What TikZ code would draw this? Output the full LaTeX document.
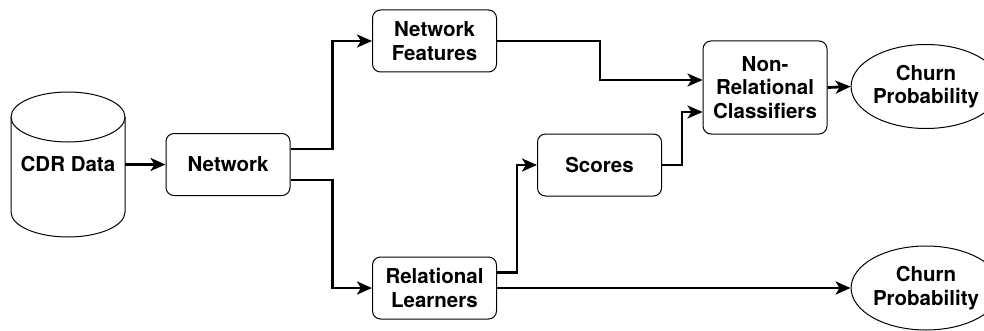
\documentclass[tikz,border=0pt]{standalone}
\usepackage{fontspec}
\setmainfont{TeX Gyre Heros}
\usetikzlibrary{arrows.meta,shapes.geometric}
\begin{document}
\begin{tikzpicture}[x=1pt,y=1pt]
        \tikzstyle{every node}=[font=\fontsize{20.5}{23.5}\selectfont\bfseries, align=center];
        \tikzstyle{box}=[draw, rounded corners=8pt, line width=1pt, minimum width=124pt, minimum height=62pt];
        \tikzstyle{outcome}=[draw, ellipse, line width=1pt, minimum width=115pt, minimum height=84pt, inner sep=0pt];
        \tikzstyle{link}=[line width=2.8pt, -{Stealth[length=15pt,width=13pt,inset=4pt]}];
        \useasboundingbox (0,0) rectangle (984,330);
        % data store, drawn by hand round its label
        \node[minimum width=114pt, minimum height=145pt] (cdr) at (68,165.5) {CDR Data};
        \draw[line width=1pt] (11,118) -- (11,213) arc (180:0:57 and 25) -- (125,118) arc (0:-180:57 and 25);
        \draw[line width=1pt] (11,213) arc (180:360:57 and 25);
        \node[box] (net) at (228,165.5) {Network};
        \node[box] (feat) at (434.5,289) {Network\\Features};
        \node[box] (rel) at (434.5,42) {Relational\\Learners};
        \node[box] (scores) at (599.5,165) {Scores};
        \node[box, minimum height=93pt] (nonrel) at (765,242.5) {Non-\\Relational\\Classifiers};
        \node[outcome] (churnA) at (926,243.5) {Churn\\Probability};
        \node[outcome] (churnB) at (926,42) {Churn\\Probability};
        %\draw [link] (a) -- ++(dx,0) |- (b);
        \draw[link] (cdr.east) -- (net.west);
        \draw[link] ([yshift=15.5pt]net.east) -- ++(42,0) |- (feat.west);
        \draw[link] ([yshift=-15.5pt]net.east) -- ++(42,0) |- (rel.west);
        \draw[link] ([yshift=15.5pt]rel.east) -- ++(20,0) |- (scores.west);
        \draw[link] (rel.east) -- (churnB.west);
        \draw[link] (feat.east) -- ++(103,0) |- ([yshift=7.5pt]nonrel.west);
        \draw[link] (scores.east) -- ++(20,0) |- ([yshift=-24.5pt]nonrel.west);
        \draw[link] (nonrel.east) -- (churnA.west);
    \end{tikzpicture}
\end{document}
